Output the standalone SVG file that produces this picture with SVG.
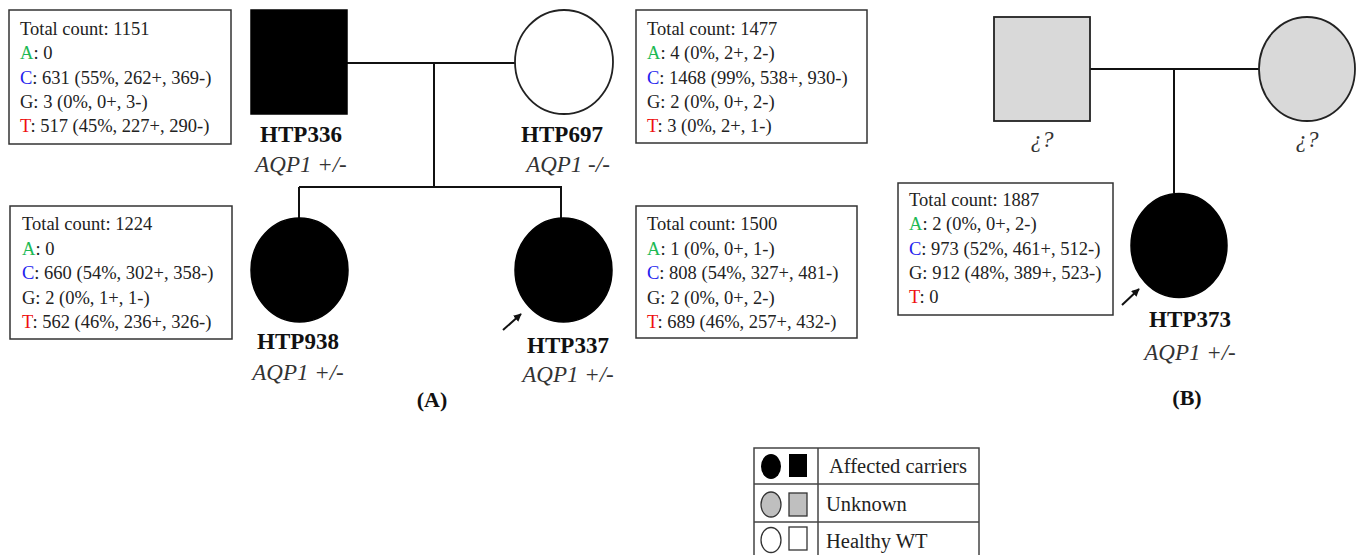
<svg xmlns="http://www.w3.org/2000/svg" width="1362" height="555" viewBox="0 0 1362 555">
<style>
.box{fill:#fff;stroke:#333;stroke-width:1.5}
.bt{font-family:"Liberation Serif",serif;font-size:18.5px;fill:#222}
.nm{font-family:"Liberation Serif",serif;font-size:23px;font-weight:bold;fill:#111;text-anchor:middle}
.ge{font-family:"Liberation Serif",serif;font-size:23px;font-style:italic;fill:#333;text-anchor:middle}
.pn{font-family:"Liberation Serif",serif;font-size:22px;font-weight:bold;fill:#111;text-anchor:middle}
.lg{font-family:"Liberation Serif",serif;font-size:20.5px;fill:#222}
.a{fill:#1db954}.c{fill:#2222ee}.t{fill:#ee1111}
.ln{stroke:#111;stroke-width:2;fill:none}
.aff{fill:#000;stroke:#000;stroke-width:1.5}
.unk{fill:#d9d9d9;stroke:#222;stroke-width:1.8}
.hw{fill:#fff;stroke:#222;stroke-width:1.8}
</style>
<defs>
<marker id="ah" viewBox="0 0 10 10" refX="9" refY="5" markerWidth="4" markerHeight="4" orient="auto"><path d="M0,0 L10,5 L0,10 z" fill="#111"/></marker>
</defs>
<rect width="1362" height="555" fill="#fff"/>
<g id="connectors">
<line class="ln" x1="347" y1="63" x2="515" y2="63"/>
<line class="ln" x1="434" y1="63" x2="434" y2="187"/>
<line class="ln" x1="299" y1="187" x2="562" y2="187"/>
<line class="ln" x1="299" y1="187" x2="299" y2="218"/>
<line class="ln" x1="561" y1="187" x2="561" y2="218"/>
<line class="ln" x1="1090" y1="69" x2="1259" y2="69"/>
<line class="ln" x1="1174" y1="69" x2="1174" y2="193"/>
<line class="ln" x1="503" y1="330" x2="521" y2="314" stroke-width="2.5" marker-end="url(#ah)"/>
<line class="ln" x1="1122" y1="305" x2="1139" y2="289" stroke-width="2.5" marker-end="url(#ah)"/>
</g>
<g id="HTP336">
<rect class="aff" x="251" y="10" width="96" height="104"/>
<text class="nm" x="301" y="142">HTP336</text>
<text class="ge" x="301" y="172">AQP1 +/-</text>
</g>
<g id="HTP697">
<ellipse class="hw" cx="564" cy="62" rx="49" ry="52"/>
<text class="nm" x="562" y="142">HTP697</text>
<text class="ge" x="568" y="172">AQP1 -/-</text>
</g>
<g id="HTP938">
<ellipse class="aff" cx="299.5" cy="270" rx="48.5" ry="52"/>
<text class="nm" x="298" y="349">HTP938</text>
<text class="ge" x="298" y="380">AQP1 +/-</text>
</g>
<g id="HTP337">
<ellipse class="aff" cx="563.5" cy="270" rx="48.5" ry="52"/>
<text class="nm" x="568" y="353">HTP337</text>
<text class="ge" x="568" y="382">AQP1 +/-</text>
</g>
<g id="father-B">
<rect class="unk" x="994" y="17" width="96" height="104"/>
<text class="ge" x="1042" y="147">¿?</text>
</g>
<g id="mother-B">
<ellipse class="unk" cx="1307" cy="69" rx="48" ry="52"/>
<text class="ge" x="1307" y="147">¿?</text>
</g>
<g id="HTP373">
<ellipse class="aff" cx="1179" cy="245.5" rx="48" ry="52"/>
<text class="nm" x="1190" y="327">HTP373</text>
<text class="ge" x="1190" y="360">AQP1 +/-</text>
</g>
<g id="box-HTP336">
<rect class="box" x="9" y="10" width="222" height="134"/>
<text class="bt" x="20" y="35">Total count: 1151</text>
<text class="bt" x="20" y="59"><tspan class="a">A</tspan>: 0</text>
<text class="bt" x="20" y="84"><tspan class="c">C</tspan>: 631 (55%, 262+, 369-)</text>
<text class="bt" x="20" y="108">G: 3 (0%, 0+, 3-)</text>
<text class="bt" x="20" y="132"><tspan class="t">T</tspan>: 517 (45%, 227+, 290-)</text>
</g>
<g id="box-HTP697">
<rect class="box" x="636" y="10" width="231" height="133"/>
<text class="bt" x="647" y="35">Total count: 1477</text>
<text class="bt" x="647" y="59"><tspan class="a">A</tspan>: 4 (0%, 2+, 2-)</text>
<text class="bt" x="647" y="84"><tspan class="c">C</tspan>: 1468 (99%, 538+, 930-)</text>
<text class="bt" x="647" y="108">G: 2 (0%, 0+, 2-)</text>
<text class="bt" x="647" y="132"><tspan class="t">T</tspan>: 3 (0%, 2+, 1-)</text>
</g>
<g id="box-HTP938">
<rect class="box" x="10" y="206" width="222" height="133"/>
<text class="bt" x="22" y="230">Total count: 1224</text>
<text class="bt" x="22" y="255"><tspan class="a">A</tspan>: 0</text>
<text class="bt" x="22" y="279"><tspan class="c">C</tspan>: 660 (54%, 302+, 358-)</text>
<text class="bt" x="22" y="304">G: 2 (0%, 1+, 1-)</text>
<text class="bt" x="22" y="328"><tspan class="t">T</tspan>: 562 (46%, 236+, 326-)</text>
</g>
<g id="box-HTP337">
<rect class="box" x="636" y="206" width="221" height="132"/>
<text class="bt" x="647" y="230">Total count: 1500</text>
<text class="bt" x="647" y="255"><tspan class="a">A</tspan>: 1 (0%, 0+, 1-)</text>
<text class="bt" x="647" y="279"><tspan class="c">C</tspan>: 808 (54%, 327+, 481-)</text>
<text class="bt" x="647" y="304">G: 2 (0%, 0+, 2-)</text>
<text class="bt" x="647" y="328"><tspan class="t">T</tspan>: 689 (46%, 257+, 432-)</text>
</g>
<g id="box-HTP373">
<rect class="box" x="898" y="183" width="215" height="132"/>
<text class="bt" x="909" y="206">Total count: 1887</text>
<text class="bt" x="909" y="230"><tspan class="a">A</tspan>: 2 (0%, 0+, 2-)</text>
<text class="bt" x="909" y="255"><tspan class="c">C</tspan>: 973 (52%, 461+, 512-)</text>
<text class="bt" x="909" y="279">G: 912 (48%, 389+, 523-)</text>
<text class="bt" x="909" y="303"><tspan class="t">T</tspan>: 0</text>
</g>
<g id="panel-labels">
<text class="pn" x="432" y="407">(A)</text>
<text class="pn" x="1187" y="405">(B)</text>
</g>
<g id="legend">
<rect x="754" y="448" width="225" height="112" fill="#fff" stroke="#444" stroke-width="1.5"/>
<line x1="818" y1="448" x2="818" y2="556" stroke="#444" stroke-width="1.5"/>
<line x1="754" y1="484" x2="979" y2="484" stroke="#444" stroke-width="1.5"/>
<line x1="754" y1="522" x2="979" y2="522" stroke="#444" stroke-width="1.5"/>
<ellipse cx="771" cy="466.5" rx="10" ry="12.5" fill="#000"/>
<rect x="789" y="454" width="18" height="23" fill="#000"/>
<text class="lg" x="829" y="473">Affected carriers</text>
<ellipse cx="771" cy="504.5" rx="10" ry="12.5" fill="#bfbfbf" stroke="#333" stroke-width="1.3"/>
<rect x="789" y="493" width="18" height="23" fill="#bfbfbf" stroke="#333" stroke-width="1.3"/>
<text class="lg" x="826" y="511">Unknown</text>
<ellipse cx="771" cy="540" rx="10" ry="12.5" fill="#fff" stroke="#333" stroke-width="1.3"/>
<rect x="789" y="527" width="18" height="23" fill="#fff" stroke="#333" stroke-width="1.3"/>
<text class="lg" x="826" y="548">Healthy WT</text>
</g>
</svg>
